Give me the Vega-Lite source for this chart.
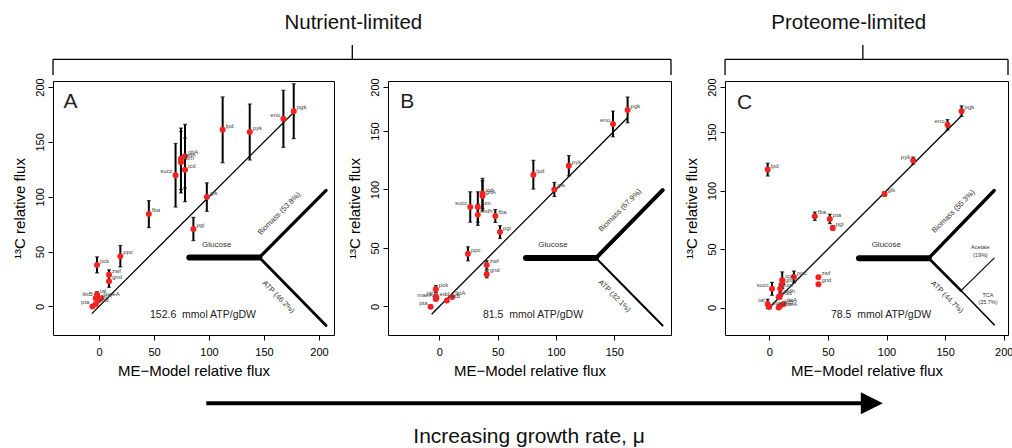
{
  "$schema": "https://vega.github.io/schema/vega-lite/v6.json",
  "padding": {"left": 12, "top": 0, "right": 0, "bottom": 0},
  "background": "white",
  "datasets": {
    "pts": [
      {"panel":"A","name":"pgk","model":177,"c13":178,"err":25},
      {"panel":"A","name":"eno","model":167.6,"c13":171,"err":26},
      {"panel":"A","name":"pyk","model":137,"c13":159,"err":25.5},
      {"panel":"A","name":"lpd","model":112.4,"c13":161,"err":30},
      {"panel":"A","name":"glk","model":98,"c13":99.7,"err":13},
      {"panel":"A","name":"pgi","model":85.8,"c13":70.6,"err":10.6},
      {"panel":"A","name":"gltA","model":78.2,"c13":137,"err":29},
      {"panel":"A","name":"mdh","model":74.5,"c13":134.6,"err":28},
      {"panel":"A","name":"fum","model":74.5,"c13":131.5,"err":28},
      {"panel":"A","name":"icd","model":78.2,"c13":124.5,"err":29},
      {"panel":"A","name":"succ","model":69.6,"c13":119.6,"err":29},
      {"panel":"A","name":"fba","model":45.3,"c13":84.2,"err":12.3},
      {"panel":"A","name":"ppc","model":19.4,"c13":45.8,"err":9.8},
      {"panel":"A","name":"pck","model":-1.8,"c13":37.9,"err":7.3},
      {"panel":"A","name":"zwf","model":9.1,"c13":28.9,"err":4.5},
      {"panel":"A","name":"gnd","model":9.1,"c13":23,"err":5.5},
      {"panel":"A","name":"tal","model":-1.8,"c13":10.9,"err":2.5},
      {"panel":"A","name":"tktB","model":-3,"c13":7.6,"err":0},
      {"panel":"A","name":"maeA","model":1.8,"c13":7.6,"err":0},
      {"panel":"A","name":"tktA","model":-0.6,"c13":5.5,"err":0},
      {"panel":"A","name":"edd","model":-3,"c13":2,"err":0},
      {"panel":"A","name":"pta","model":-6,"c13":0,"err":0},
      {"panel":"B","name":"pgk","model":161.4,"c13":168,"err":11},
      {"panel":"B","name":"eno","model":148.9,"c13":156,"err":11},
      {"panel":"B","name":"pyk","model":111,"c13":120.3,"err":8.7},
      {"panel":"B","name":"glk","model":98.6,"c13":100,"err":6},
      {"panel":"B","name":"lpd","model":80.6,"c13":112.6,"err":12.3},
      {"panel":"B","name":"icd","model":37,"c13":96.5,"err":13},
      {"panel":"B","name":"gltA","model":37,"c13":94.5,"err":13},
      {"panel":"B","name":"succ","model":26.5,"c13":85,"err":13},
      {"panel":"B","name":"fum","model":33,"c13":85,"err":13},
      {"panel":"B","name":"mdh","model":33,"c13":78.3,"err":9},
      {"panel":"B","name":"fba","model":48,"c13":77.3,"err":5.5},
      {"panel":"B","name":"pgi","model":52,"c13":63.6,"err":5.5},
      {"panel":"B","name":"ppc","model":24.5,"c13":45,"err":6},
      {"panel":"B","name":"zwf","model":40.6,"c13":35.4,"err":3.7},
      {"panel":"B","name":"gnd","model":40.6,"c13":27.5,"err":3},
      {"panel":"B","name":"pck","model":-3,"c13":14.8,"err":3},
      {"panel":"B","name":"tal","model":-3,"c13":8.5,"err":2},
      {"panel":"B","name":"edd","model":-2.5,"c13":7.2,"err":0},
      {"panel":"B","name":"maeA","model":-3,"c13":6.4,"err":0},
      {"panel":"B","name":"tktA","model":11,"c13":8,"err":0},
      {"panel":"B","name":"tktB","model":6.4,"c13":5.1,"err":0},
      {"panel":"B","name":"pta","model":-7.5,"c13":-0.3,"err":0},
      {"panel":"C","name":"pgk","model":164,"c13":168,"err":4.5},
      {"panel":"C","name":"eno","model":152,"c13":156.3,"err":4.5},
      {"panel":"C","name":"pyk","model":122.7,"c13":125.7,"err":3},
      {"panel":"C","name":"glk","model":98.3,"c13":97.2,"err":2},
      {"panel":"C","name":"lpd","model":-1.4,"c13":118,"err":5.5},
      {"panel":"C","name":"fba","model":38.8,"c13":78.1,"err":3.6},
      {"panel":"C","name":"pta","model":51.6,"c13":75.8,"err":4},
      {"panel":"C","name":"pgi","model":54.1,"c13":68.1,"err":2},
      {"panel":"C","name":"zwf","model":41.9,"c13":25.9,"err":0},
      {"panel":"C","name":"gnd","model":41.9,"c13":20,"err":0},
      {"panel":"C","name":"ppc","model":21,"c13":26.2,"err":5},
      {"panel":"C","name":"icd","model":11,"c13":23.5,"err":7},
      {"panel":"C","name":"gltA","model":11,"c13":20.5,"err":4},
      {"panel":"C","name":"succ","model":2.3,"c13":16,"err":5.5},
      {"panel":"C","name":"fum","model":9.3,"c13":16,"err":4},
      {"panel":"C","name":"mdh","model":9.3,"c13":10.3,"err":3},
      {"panel":"C","name":"edd","model":8,"c13":9,"err":0},
      {"panel":"C","name":"tal","model":-1.4,"c13":3.1,"err":4},
      {"panel":"C","name":"pck","model":0,"c13":0.5,"err":0},
      {"panel":"C","name":"tktA","model":12.2,"c13":3.1,"err":0},
      {"panel":"C","name":"tktB","model":9.3,"c13":1.5,"err":0},
      {"panel":"C","name":"maeA","model":8,"c13":0,"err":0}
    ],
    "diag": [
      {"panel":"A","v":-6.5},{"panel":"A","v":178},
      {"panel":"B","v":-6.6},{"panel":"B","v":161.5},
      {"panel":"C","v":-1},{"panel":"C","v":164}
    ],
    "flows": [
      {"panel":"A","flow":"Glucose","pct":100,"x":82.1,"y":44.7,"x2":145.8,"y2":44.7},
      {"panel":"A","flow":"Biomass","pct":53.8,"x":145.8,"y":44.7,"x2":206.4,"y2":105.8},
      {"panel":"A","flow":"ATP","pct":46.2,"x":145.8,"y":44.7,"x2":206.4,"y2":-17.3},
      {"panel":"B","flow":"Glucose","pct":100,"x":74.3,"y":41.4,"x2":134.3,"y2":41.4},
      {"panel":"B","flow":"Biomass","pct":67.9,"x":134.3,"y":41.4,"x2":191.4,"y2":99.4},
      {"panel":"B","flow":"ATP","pct":32.1,"x":134.3,"y":41.4,"x2":191.4,"y2":-16.3},
      {"panel":"C","flow":"Glucose","pct":100,"x":76.5,"y":42.2,"x2":136,"y2":42.2},
      {"panel":"C","flow":"Biomass","pct":55.3,"x":136,"y":42.2,"x2":191.8,"y2":100.1},
      {"panel":"C","flow":"ATP","pct":44.7,"x":136,"y":42.2,"x2":163.5,"y2":14.5},
      {"panel":"C","flow":"TCA","pct":25.7,"x":163.5,"y":14.5,"x2":191.8,"y2":-14.8},
      {"panel":"C","flow":"Acetate","pct":19,"x":163.5,"y":14.5,"x2":191.8,"y2":42.2}
    ]
  },
  "spacing": 0,
  "vconcat": [
    {
      "width": 955, "height": 77, "view": {"stroke": null},
      "data": {"values": [{}]},
      "layer": [
        {"mark": {"type": "rule", "strokeWidth": 1.3, "color": "black"},
         "encoding": {"x": {"datum": 0, "type": "quantitative", "scale": {"domain": [0, 1], "nice": false}, "axis": null}, "x2": {"datum": 0.6471},
                      "y": {"datum": 0.23, "type": "quantitative", "scale": {"domain": [0, 1], "nice": false},
                            "axis": {"values": [0.5], "labelExpr": "'200'", "labelOpacity": 0, "tickOpacity": 0, "title": "x", "titleOpacity": 0}}}},
        {"mark": {"type": "rule", "strokeWidth": 1.3, "color": "black"},
         "encoding": {"x": {"datum": 0, "type": "quantitative", "axis": null}, "y": {"datum": 0.23, "type": "quantitative"}, "y2": {"datum": 0.026}}},
        {"mark": {"type": "rule", "strokeWidth": 1.3, "color": "black"},
         "encoding": {"x": {"datum": 0.6471, "type": "quantitative", "axis": null}, "y": {"datum": 0.23, "type": "quantitative"}, "y2": {"datum": 0.026}}},
        {"mark": {"type": "rule", "strokeWidth": 1.3, "color": "black"},
         "encoding": {"x": {"datum": 0.3134, "type": "quantitative", "axis": null}, "y": {"datum": 0.23, "type": "quantitative"}, "y2": {"datum": 0.4156}}},
        {"mark": {"type": "text", "text": "Nutrient-limited", "fontSize": 20.5, "color": "#111"},
         "encoding": {"x": {"datum": 0.3145, "type": "quantitative", "axis": null}, "y": {"datum": 0.697, "type": "quantitative"}}},
        {"mark": {"type": "rule", "strokeWidth": 1.3, "color": "black"},
         "encoding": {"x": {"datum": 0.7037, "type": "quantitative", "axis": null}, "x2": {"datum": 1}, "y": {"datum": 0.23, "type": "quantitative"}}},
        {"mark": {"type": "rule", "strokeWidth": 1.3, "color": "black"},
         "encoding": {"x": {"datum": 0.7037, "type": "quantitative", "axis": null}, "y": {"datum": 0.23, "type": "quantitative"}, "y2": {"datum": 0.026}}},
        {"mark": {"type": "rule", "strokeWidth": 1.3, "color": "black"},
         "encoding": {"x": {"datum": 1, "type": "quantitative", "axis": null}, "y": {"datum": 0.23, "type": "quantitative"}, "y2": {"datum": 0.026}}},
        {"mark": {"type": "rule", "strokeWidth": 1.3, "color": "black"},
         "encoding": {"x": {"datum": 0.848, "type": "quantitative", "axis": null}, "y": {"datum": 0.23, "type": "quantitative"}, "y2": {"datum": 0.4156}}},
        {"mark": {"type": "text", "text": "Proteome-limited", "fontSize": 20.5, "color": "#111"},
         "encoding": {"x": {"datum": 0.8333, "type": "quantitative", "axis": null}, "y": {"datum": 0.697, "type": "quantitative"}}}
      ]
    },
    {
      "hconcat": [
        {
          "width": 281, "height": 254,
          "layer": [
            {"data": {"name": "diag"}, "transform": [{"filter": "datum.panel==='A'"}],
             "mark": {"type": "line", "color": "black", "strokeWidth": 1.3},
             "encoding": {
               "x": {"field": "v", "type": "quantitative", "title": "ME−Model relative flux", "scale": {"domain": [-41.8, 213.6], "nice": false, "zero": false}, "axis": {"values": [0, 50, 100, 150, 200]}},
               "y": {"field": "v", "type": "quantitative", "title": "¹³C relative flux", "scale": {"domain": [-26, 205.5], "nice": false, "zero": false}, "axis": {"values": [0, 50, 100, 150, 200]}}}},
            {"data": {"name": "flows"}, "transform": [{"filter": "datum.panel==='A'"}],
             "mark": {"type": "rule", "color": "black", "strokeCap": "round"},
             "encoding": {"x": {"field": "x", "type": "quantitative"}, "y": {"field": "y", "type": "quantitative"}, "x2": {"field": "x2"}, "y2": {"field": "y2"},
               "strokeWidth": {"field": "pct", "type": "quantitative", "scale": {"domain": [0, 100], "range": [0, 6]}, "legend": null}}},
            {"data": {"values": [{}]}, "mark": {"type": "text", "text": "Glucose", "fontSize": 8, "color": "#333"}, "encoding": {"x": {"datum": 107}, "y": {"datum": 56.2}}},
            {"data": {"values": [{}]}, "mark": {"type": "text", "text": "Biomass (53.8%)", "fontSize": 7.5, "angle": -45, "color": "#333"}, "encoding": {"x": {"datum": 164}, "y": {"datum": 84.5}}},
            {"data": {"values": [{}]}, "mark": {"type": "text", "text": "ATP (46.2%)", "fontSize": 7.5, "angle": 45, "color": "#333"}, "encoding": {"x": {"datum": 163}, "y": {"datum": 8.5}}},
            {"data": {"values": [{}]}, "mark": {"type": "text", "text": "152.6\u00a0 mmol ATP/gDW", "fontSize": 10.5, "color": "#222"}, "encoding": {"x": {"datum": 94.5}, "y": {"datum": -8.2}}},
            {"data": {"values": [{}]}, "mark": {"type": "text", "text": "A", "fontSize": 21, "align": "left", "baseline": "alphabetic", "color": "#222"}, "encoding": {"x": {"datum": -32.2}, "y": {"datum": 181}}},
            {"data": {"name": "pts"}, "transform": [{"filter": "datum.panel==='A' && datum.err > 0"}],
             "mark": {"type": "errorbar", "ticks": {"size": 4, "thickness": 1.2, "color": "black"}, "rule": {"strokeWidth": 2, "color": "black"}},
             "encoding": {"x": {"field": "model", "type": "quantitative", "title": "ME−Model relative flux"}, "y": {"field": "c13", "type": "quantitative", "title": "¹³C relative flux"}, "yError": {"field": "err"}}},
            {"data": {"name": "pts"}, "transform": [{"filter": "datum.panel==='A'"}],
             "mark": {"type": "circle", "size": 36, "color": "#f22222", "opacity": 1},
             "encoding": {"x": {"field": "model", "type": "quantitative"}, "y": {"field": "c13", "type": "quantitative"}}},
            {"data": {"name": "pts"}, "transform": [{"filter": "datum.panel==='A' && indexof(['eno','succ','tktB','pta'], datum.name) < 0"}],
             "mark": {"type": "text", "align": "left", "dx": 3, "dy": -4, "fontSize": 6, "color": "#444"},
             "encoding": {"x": {"field": "model", "type": "quantitative"}, "y": {"field": "c13", "type": "quantitative"}, "text": {"field": "name"}}},
            {"data": {"name": "pts"}, "transform": [{"filter": "datum.panel==='A' && indexof(['eno','succ','tktB','pta'], datum.name) >= 0"}],
             "mark": {"type": "text", "align": "right", "dx": -3, "dy": -4, "fontSize": 6, "color": "#444"},
             "encoding": {"x": {"field": "model", "type": "quantitative"}, "y": {"field": "c13", "type": "quantitative"}, "text": {"field": "name"}}}
          ]
        },
        {
          "width": 283, "height": 254,
          "layer": [
            {"data": {"name": "diag"}, "transform": [{"filter": "datum.panel==='B'"}],
             "mark": {"type": "line", "color": "black", "strokeWidth": 1.3},
             "encoding": {
               "x": {"field": "v", "type": "quantitative", "title": "ME−Model relative flux", "scale": {"domain": [-44, 198.6], "nice": false, "zero": false}, "axis": {"values": [0, 50, 100, 150]}},
               "y": {"field": "v", "type": "quantitative", "title": "¹³C relative flux", "scale": {"domain": [-24.4, 192.7], "nice": false, "zero": false}, "axis": {"values": [0, 50, 100, 150, 187.6], "labelExpr": "datum.value > 180 ? '200' : datum.label"}}}},
            {"data": {"name": "flows"}, "transform": [{"filter": "datum.panel==='B'"}],
             "mark": {"type": "rule", "color": "black", "strokeCap": "round"},
             "encoding": {"x": {"field": "x", "type": "quantitative"}, "y": {"field": "y", "type": "quantitative"}, "x2": {"field": "x2"}, "y2": {"field": "y2"},
               "strokeWidth": {"field": "pct", "type": "quantitative", "scale": {"domain": [0, 100], "range": [0, 6]}, "legend": null}}},
            {"data": {"values": [{}]}, "mark": {"type": "text", "text": "Glucose", "fontSize": 8, "color": "#333"}, "encoding": {"x": {"datum": 97.4}, "y": {"datum": 52.7}}},
            {"data": {"values": [{}]}, "mark": {"type": "text", "text": "Biomass (67.9%)", "fontSize": 7.5, "angle": -45, "color": "#333"}, "encoding": {"x": {"datum": 155.1}, "y": {"datum": 82}}},
            {"data": {"values": [{}]}, "mark": {"type": "text", "text": "ATP (32.1%)", "fontSize": 7.5, "angle": 45, "color": "#333"}, "encoding": {"x": {"datum": 150}, "y": {"datum": 8.8}}},
            {"data": {"values": [{}]}, "mark": {"type": "text", "text": "81.5\u00a0 mmol ATP/gDW", "fontSize": 10.5, "color": "#222"}, "encoding": {"x": {"datum": 80.3}, "y": {"datum": -7.1}}},
            {"data": {"values": [{}]}, "mark": {"type": "text", "text": "B", "fontSize": 21, "align": "left", "baseline": "alphabetic", "color": "#222"}, "encoding": {"x": {"datum": -33.4}, "y": {"datum": 169.5}}},
            {"data": {"name": "pts"}, "transform": [{"filter": "datum.panel==='B' && datum.err > 0"}],
             "mark": {"type": "errorbar", "ticks": {"size": 4, "thickness": 1.2, "color": "black"}, "rule": {"strokeWidth": 2, "color": "black"}},
             "encoding": {"x": {"field": "model", "type": "quantitative", "title": "ME−Model relative flux"}, "y": {"field": "c13", "type": "quantitative", "title": "¹³C relative flux"}, "yError": {"field": "err"}}},
            {"data": {"name": "pts"}, "transform": [{"filter": "datum.panel==='B'"}],
             "mark": {"type": "circle", "size": 36, "color": "#f22222", "opacity": 1},
             "encoding": {"x": {"field": "model", "type": "quantitative"}, "y": {"field": "c13", "type": "quantitative"}}},
            {"data": {"name": "pts"}, "transform": [{"filter": "datum.panel==='B' && indexof(['eno','succ','tal','maeA','pta'], datum.name) < 0"}],
             "mark": {"type": "text", "align": "left", "dx": 3, "dy": -4, "fontSize": 6, "color": "#444"},
             "encoding": {"x": {"field": "model", "type": "quantitative"}, "y": {"field": "c13", "type": "quantitative"}, "text": {"field": "name"}}},
            {"data": {"name": "pts"}, "transform": [{"filter": "datum.panel==='B' && indexof(['eno','succ','tal','maeA','pta'], datum.name) >= 0"}],
             "mark": {"type": "text", "align": "right", "dx": -3, "dy": -4, "fontSize": 6, "color": "#444"},
             "encoding": {"x": {"field": "model", "type": "quantitative"}, "y": {"field": "c13", "type": "quantitative"}, "text": {"field": "name"}}}
          ]
        },
        {
          "width": 283, "height": 254,
          "layer": [
            {"data": {"name": "diag"}, "transform": [{"filter": "datum.panel==='C'"}],
             "mark": {"type": "line", "color": "black", "strokeWidth": 1.3},
             "encoding": {
               "x": {"field": "v", "type": "quantitative", "title": "ME−Model relative flux", "scale": {"domain": [-37.8, 203.6], "nice": false, "zero": false}, "axis": {"values": [0, 50, 100, 150, 200]}},
               "y": {"field": "v", "type": "quantitative", "title": "¹³C relative flux", "scale": {"domain": [-23.5, 193.8], "nice": false, "zero": false}, "axis": {"values": [0, 50, 100, 150, 188.6], "labelExpr": "datum.value > 180 ? '200' : datum.label"}}}},
            {"data": {"name": "flows"}, "transform": [{"filter": "datum.panel==='C'"}],
             "mark": {"type": "rule", "color": "black", "strokeCap": "round"},
             "encoding": {"x": {"field": "x", "type": "quantitative"}, "y": {"field": "y", "type": "quantitative"}, "x2": {"field": "x2"}, "y2": {"field": "y2"},
               "strokeWidth": {"field": "pct", "type": "quantitative", "scale": {"domain": [0, 100], "range": [0, 6]}, "legend": null}}},
            {"data": {"values": [{}]}, "mark": {"type": "text", "text": "Glucose", "fontSize": 8, "color": "#333"}, "encoding": {"x": {"datum": 99.8}, "y": {"datum": 53.6}}},
            {"data": {"values": [{}]}, "mark": {"type": "text", "text": "Biomass (55.3%)", "fontSize": 7.5, "angle": -45, "color": "#333"}, "encoding": {"x": {"datum": 157.2}, "y": {"datum": 82.1}}},
            {"data": {"values": [{}]}, "mark": {"type": "text", "text": "ATP (44.7%)", "fontSize": 7.5, "angle": 45, "color": "#333"}, "encoding": {"x": {"datum": 151.5}, "y": {"datum": 8.8}}},
            {"data": {"values": [{}]}, "mark": {"type": "text", "text": "Acetate\n(19%)", "lineBreak": "\n", "fontSize": 5.5, "color": "#333"}, "encoding": {"x": {"datum": 180}, "y": {"datum": 51.6}}},
            {"data": {"values": [{}]}, "mark": {"type": "text", "text": "TCA\n(25.7%)", "lineBreak": "\n", "fontSize": 5.5, "color": "#333"}, "encoding": {"x": {"datum": 186.5}, "y": {"datum": 11.1}}},
            {"data": {"values": [{}]}, "mark": {"type": "text", "text": "78.5\u00a0 mmol ATP/gDW", "fontSize": 10.5, "color": "#222"}, "encoding": {"x": {"datum": 95.3}, "y": {"datum": -6.8}}},
            {"data": {"values": [{}]}, "mark": {"type": "text", "text": "C", "fontSize": 21, "align": "left", "baseline": "alphabetic", "color": "#222"}, "encoding": {"x": {"datum": -27.5}, "y": {"datum": 170}}},
            {"data": {"name": "pts"}, "transform": [{"filter": "datum.panel==='C' && datum.err > 0"}],
             "mark": {"type": "errorbar", "ticks": {"size": 4, "thickness": 1.2, "color": "black"}, "rule": {"strokeWidth": 2, "color": "black"}},
             "encoding": {"x": {"field": "model", "type": "quantitative", "title": "ME−Model relative flux"}, "y": {"field": "c13", "type": "quantitative", "title": "¹³C relative flux"}, "yError": {"field": "err"}}},
            {"data": {"name": "pts"}, "transform": [{"filter": "datum.panel==='C'"}],
             "mark": {"type": "circle", "size": 36, "color": "#f22222", "opacity": 1},
             "encoding": {"x": {"field": "model", "type": "quantitative"}, "y": {"field": "c13", "type": "quantitative"}}},
            {"data": {"name": "pts"}, "transform": [{"filter": "datum.panel==='C' && indexof(['eno','pyk','succ','tal'], datum.name) < 0"}],
             "mark": {"type": "text", "align": "left", "dx": 3, "dy": -4, "fontSize": 6, "color": "#444"},
             "encoding": {"x": {"field": "model", "type": "quantitative"}, "y": {"field": "c13", "type": "quantitative"}, "text": {"field": "name"}}},
            {"data": {"name": "pts"}, "transform": [{"filter": "datum.panel==='C' && indexof(['eno','pyk','succ','tal'], datum.name) >= 0"}],
             "mark": {"type": "text", "align": "right", "dx": -3, "dy": -4, "fontSize": 6, "color": "#444"},
             "encoding": {"x": {"field": "model", "type": "quantitative"}, "y": {"field": "c13", "type": "quantitative"}, "text": {"field": "name"}}}
          ]
        }
      ],
      "spacing": 54,
      "bounds": "flush"
    },
    {
      "width": 955, "height": 70, "view": {"stroke": null},
      "data": {"values": [{}]},
      "layer": [
        {"mark": {"type": "rule", "strokeWidth": 4, "color": "black"},
         "encoding": {"x": {"datum": 0.1605, "type": "quantitative", "scale": {"domain": [0, 1], "nice": false}, "axis": null}, "x2": {"datum": 0.85},
                      "y": {"datum": 0.653, "type": "quantitative", "scale": {"domain": [0, 1], "nice": false},
                            "axis": {"values": [0.5], "labelExpr": "'200'", "labelOpacity": 0, "tickOpacity": 0, "title": "x", "titleOpacity": 0}}}},
        {"mark": {"type": "point", "shape": "M -1 -1 L 1 0 L -1 1 Z", "size": 484, "filled": true, "color": "black", "opacity": 1},
         "encoding": {"x": {"datum": 0.8574, "type": "quantitative", "axis": null}, "y": {"datum": 0.653, "type": "quantitative"}}},
        {"mark": {"type": "text", "text": "Increasing growth rate, μ", "fontSize": 21, "color": "#111"},
         "encoding": {"x": {"datum": 0.4985, "type": "quantitative", "axis": null}, "y": {"datum": 0.171, "type": "quantitative"}}}
      ]
    }
  ],
  "config": {
    "font": "Liberation Sans",
    "view": {"stroke": "black", "strokeWidth": 1},
    "axis": {"domain": false, "grid": false, "tickColor": "black", "tickSize": 5, "tickWidth": 1,
             "labelFont": "Liberation Sans", "labelFontSize": 11, "labelColor": "black",
             "titleFont": "Liberation Sans", "titleFontSize": 15, "titleFontWeight": "normal", "titleColor": "black"},
    "axisX": {"labelPadding": 6, "titlePadding": 6, "labelFlush": false},
    "axisY": {"labelAngle": 270, "labelPadding": 3, "titlePadding": 6.5, "labelFlush": false},
    "text": {"font": "Liberation Sans"}
  }
}
